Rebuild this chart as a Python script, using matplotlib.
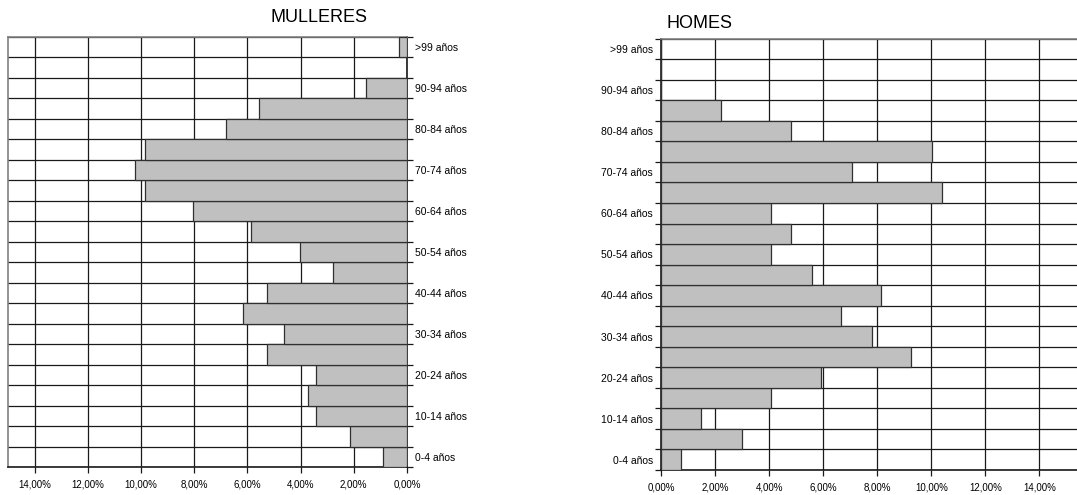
import numpy as np
import matplotlib.pyplot as plt
from matplotlib.ticker import FixedLocator, FuncFormatter

plt.rcParams['font.family'] = ['Liberation Sans', 'DejaVu Sans']

# grupos de idade, de 0-4 ata >99
idades = ['0-4 años', '5-9 años', '10-14 años', '15-19 años', '20-24 años',
          '25-29 años', '30-34 años', '35-39 años', '40-44 años', '45-49 años',
          '50-54 años', '55-59 años', '60-64 años', '65-69 años', '70-74 años',
          '75-79 años', '80-84 años', '85-89 años', '90-94 años', '95-99 años',
          '>99 años']

# porcentaxes de poboación por grupo
mulleres = [0.91, 2.14, 3.42, 3.71, 3.42, 5.26, 4.62, 6.18, 5.26, 2.77,
            4.01, 5.86, 8.05, 9.86, 10.23, 9.86, 6.79, 5.58, 1.55, 0.0, 0.29]
homes = [0.74, 2.98, 1.47, 4.06, 5.91, 9.25, 7.80, 6.65, 8.12, 5.58,
         4.06, 4.81, 4.06, 10.41, 7.05, 10.02, 4.81, 2.22, 0.0, 0.0, 0.0]

ticks_x = [0, 2, 4, 6, 8, 10, 12, 14]

W, H = 1077, 495
fig = plt.figure(figsize=(W / 100, H / 100), dpi=100)

def px(x0, y0, x1, y1):
    return [x0 / W, 1 - y1 / H, (x1 - x0) / W, (y1 - y0) / H]

ax_m = fig.add_axes(px(8, 37, 407, 467))
ax_h = fig.add_axes(px(661.3, 38.7, 661.3 + 16 * 27, 470))

pos = np.arange(len(idades))
fmt = FuncFormatter(lambda v, p: ('%.2f%%' % v).replace('.', ','))

for ax, datos in ((ax_m, mulleres), (ax_h, homes)):
    ax.barh(pos, datos, height=1.0, color='#C0C0C0', edgecolor='#303030',
            linewidth=0.9, zorder=3)
    ax.set_ylim(-0.5, len(idades) - 0.5)
    ax.xaxis.set_major_locator(FixedLocator(ticks_x))
    ax.xaxis.set_major_formatter(fmt)
    ax.yaxis.set_major_locator(FixedLocator(pos[::2]))
    ax.set_yticklabels(idades[::2])
    ax.yaxis.set_minor_locator(FixedLocator(np.arange(-0.5, len(idades), 1)))
    ax.grid(True, axis='x', which='major', color='#1a1a1a', linewidth=0.9, zorder=1)
    ax.grid(True, axis='y', which='minor', color='#1a1a1a', linewidth=0.9, zorder=1)
    ax.tick_params(axis='y', which='major', length=0, labelsize=7.5, pad=6)
    ax.tick_params(axis='y', which='minor', length=4, width=0.9, color='#1a1a1a')
    ax.tick_params(axis='x', length=4, width=0.9, color='#1a1a1a', labelsize=7, pad=5)
    for s in ax.spines.values():
        s.set_color('#808080')
        s.set_linewidth(1.2)

ax_m.set_xlim(15, 0)
ax_m.yaxis.tick_right()
ax_m.yaxis.set_label_position('right')
ax_m.spines['right'].set_color('#1a1a1a')
ax_m.spines['bottom'].set_color('#1a1a1a')
ax_m.set_title('MULLERES', fontsize=13, pad=11, x=0.78)

ax_h.set_xlim(0, 16)
ax_h.spines['right'].set_visible(False)
ax_h.spines['left'].set_color('#1a1a1a')
ax_h.spines['bottom'].set_color('#1a1a1a')
ax_h.set_title('HOMES', fontsize=13, pad=8, loc='left', x=0.012)

fig.savefig('out.png', dpi=100)
